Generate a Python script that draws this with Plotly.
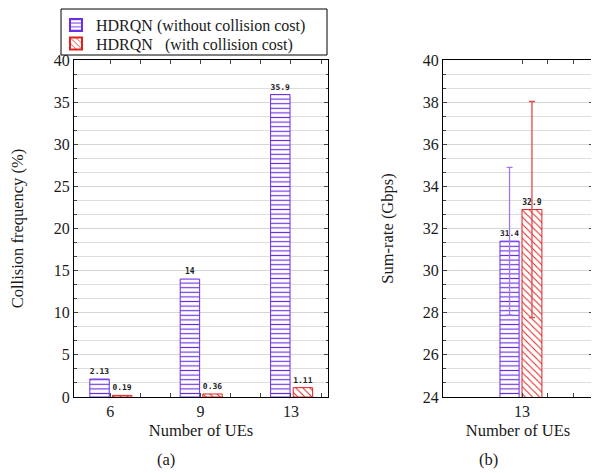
import plotly.graph_objects as go

# ---------------- data ----------------
ue_left = ["6", "9", "13"]
coll_without = [2.13, 14, 35.9]
coll_with = [0.19, 0.36, 1.11]

ue_right = ["13"]
rate_without = [31.4]
rate_with = [32.9]
rate_without_err = [3.5]
rate_with_err = [5.13]

name_without = "HDRQN (without collision cost)"
name_with = "HDRQN &nbsp;&nbsp;(with collision cost)"

# ---------------- style ----------------
BLUE = "#6a2ee6"
BLUE_ERR = "#a07ae8"
RED = "#e0221f"
RED_ERR = "#e04a4a"
SERIF = "Liberation Serif"
MONO = "DejaVu Sans Mono"
GRID = "#d6d6d6"
MINOR_GRID = "#dedede"
TXT = "#1a1a1a"

xl = list(range(len(ue_left)))
xr = [0]

fig = go.Figure()

blue_pat = dict(shape="-", fgcolor=BLUE, bgcolor="white", size=4.6, solidity=0.25, fillmode="replace")
red_pat = dict(shape="\\", fgcolor=RED, bgcolor="white", size=5, solidity=0.2, fillmode="replace")
lbl_font = dict(family=MONO, size=8, color="#222222", weight=700)

fig.add_trace(go.Bar(
    x=xl, y=coll_without, name=name_without, width=0.215, offset=-0.225,
    marker=dict(color=BLUE, line=dict(color=BLUE, width=1), pattern=blue_pat),
    text=[f"{v:g}" for v in coll_without], textposition="outside", textfont=lbl_font,
    cliponaxis=False, xaxis="x", yaxis="y", legend="legend",
))
fig.add_trace(go.Bar(
    x=xl, y=coll_with, name=name_with, width=0.215, offset=0.025,
    marker=dict(color=RED, line=dict(color=RED, width=1), pattern=red_pat),
    text=[f"{v:g}" for v in coll_with], textposition="outside", textfont=lbl_font,
    cliponaxis=False, xaxis="x", yaxis="y", legend="legend2",
))
fig.add_trace(go.Bar(
    x=xr, y=rate_without, name=name_without, width=0.25, offset=-0.288,
    marker=dict(color=BLUE, line=dict(color=BLUE, width=1), pattern=blue_pat),
    error_y=dict(type="data", array=rate_without_err, color=BLUE_ERR, thickness=1.3, width=3),
    text=[f"{v:g}" for v in rate_without], textposition="outside", textfont=lbl_font,
    cliponaxis=False, xaxis="x2", yaxis="y2", showlegend=False,
))
fig.add_trace(go.Bar(
    x=xr, y=rate_with, name=name_with, width=0.26, offset=0.0,
    marker=dict(color=RED, line=dict(color=RED, width=1), pattern=red_pat),
    error_y=dict(type="data", array=rate_with_err, color=RED_ERR, thickness=1.3, width=3),
    text=[f"{v:g}" for v in rate_with], textposition="outside", textfont=lbl_font,
    cliponaxis=False, xaxis="x2", yaxis="y2", showlegend=False,
))

tickfont = dict(family=SERIF, size=16, color=TXT)
titlefont = dict(family=SERIF, size=16.5, color=TXT)

left_tickvals = [0, 1/3, 2/3, 1, 4/3, 5/3, 2, 7/3]
left_ticktext = [ue_left[0], "", "", ue_left[1], "", "", ue_left[2], ""]
right_tickvals = [0, 1/3, 2/3]
right_ticktext = [ue_right[0], "", ""]

common_x = dict(showline=True, linecolor="black", linewidth=1, mirror="ticks",
                ticks="inside", ticklen=4, tickcolor="#444444", showgrid=False,
                zeroline=False, tickfont=tickfont, title_font=titlefont, automargin=False)
common_y = dict(showline=True, linecolor="black", linewidth=1, mirror="ticks",
                ticks="inside", ticklen=4, tickcolor="#444444", showgrid=True,
                gridcolor=GRID, gridwidth=1, zeroline=False, tickfont=tickfont,
                title_font=titlefont, automargin=False)

legend_common = dict(xref="paper", yref="container", xanchor="left", yanchor="top",
                     borderwidth=0, bgcolor="rgba(0,0,0,0)",
                     font=dict(family=SERIF, size=16, color=TXT), itemsizing="constant")

# the page body adds an 8px margin, so the figure is sized/offset to compensate
fig.update_layout(
    width=591, height=465,
    margin=dict(l=66, r=6, t=52, b=76, autoexpand=False),
    paper_bgcolor="white", plot_bgcolor="white",
    barmode="overlay",
    font=dict(family=SERIF, size=16, color=TXT),
    xaxis=dict(domain=[0, 254/519], range=[-0.4, 2.41], tickmode="array",
               tickvals=left_tickvals, ticktext=left_ticktext,
               title=dict(text="Number of UEs", standoff=5), **common_x),
    yaxis=dict(range=[0, 40], tickmode="linear", tick0=0, dtick=5,
               minor=dict(dtick=5/3, tick0=0, ticks="inside", ticklen=2.5,
                          tickcolor="#444444", showgrid=True, gridcolor=MINOR_GRID),
               title=dict(text="Collision frequency (%)", standoff=26), **common_y),
    xaxis2=dict(domain=[369/519, 1], range=[-1.033, 0.928], anchor="y2",
                tickmode="array", tickvals=right_tickvals, ticktext=right_ticktext,
                title=dict(text="Number of UEs", standoff=5), **common_x),
    yaxis2=dict(range=[24, 40], anchor="x2", tickmode="linear", tick0=24, dtick=2,
                minor=dict(dtick=2/3, tick0=24, ticks="inside", ticklen=2.5,
                           tickcolor="#444444", showgrid=True, gridcolor=MINOR_GRID),
                title=dict(text="Sum-rate (Gbps)", standoff=25), **common_y),
    legend=dict(x=-0.0347, y=1.0, **legend_common),
    legend2=dict(x=-0.0347, y=0.9602, **legend_common),
    shapes=[
        dict(type="rect", xref="paper", yref="paper", x0=-0.025, x1=0.4875,
             y0=1.0148, y1=1.1513, line=dict(color="black", width=1),
             fillcolor="rgba(0,0,0,0)", layer="below"),
    ],
    annotations=[
        dict(text="(a)", x=0.177, y=-0.184, xref="paper", yref="paper",
             xanchor="center", yanchor="middle",
             showarrow=False, font=dict(family=SERIF, size=16.5, color=TXT)),
        dict(text="(b)", x=0.7996, y=-0.184, xref="paper", yref="paper",
             xanchor="center", yanchor="middle",
             showarrow=False, font=dict(family=SERIF, size=16.5, color=TXT)),
    ],
)

fig.write_html("out.html")
